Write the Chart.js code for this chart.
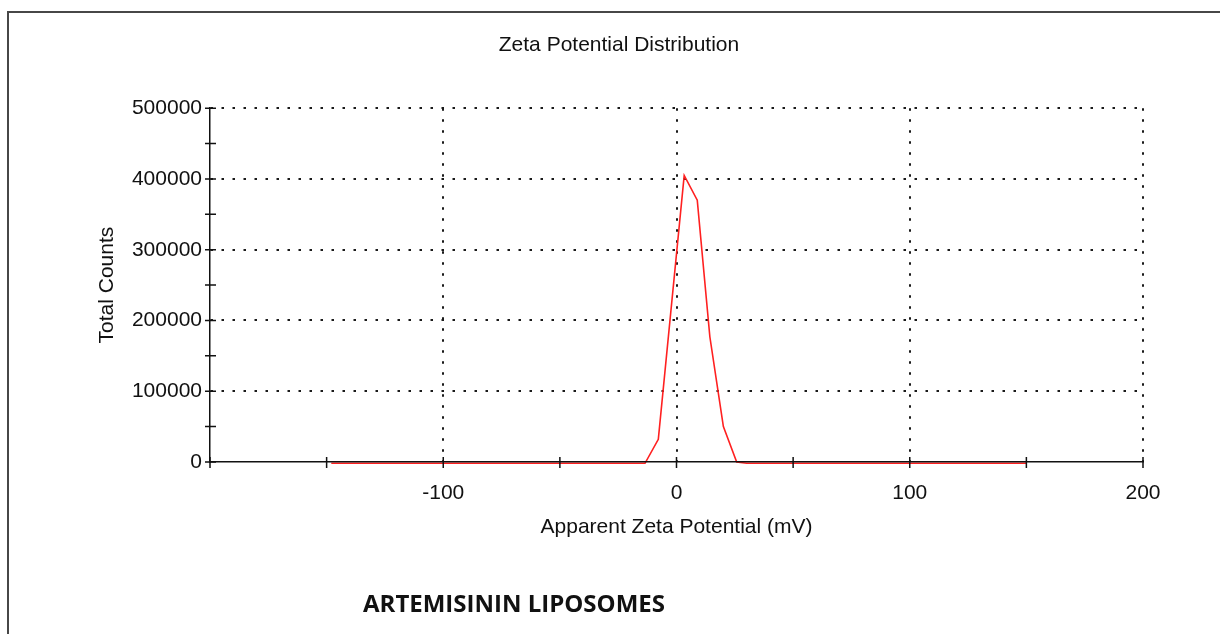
<!DOCTYPE html>
<html>
<head>
<meta charset="utf-8">
<script src="https://cdn.jsdelivr.net/npm/chart.js@4.4.1/dist/chart.umd.min.js"></script>
<style>
  html, body { margin: 0; padding: 0; background: #fff; }
  #frame { position: absolute; left: 7px; top: 11px; width: 1300px; height: 700px;
           border-top: 2px solid #474747; border-left: 2px solid #474747; }
  #chart { position: absolute; left: 0; top: 0; }
</style>
</head>
<body>
<div id="frame"></div>
<canvas id="chart" width="1220" height="634"></canvas>
<script>
// valores (a linha de base fica um pouco abaixo do eixo)
const zetaMv = [-148, -13.5, -7.8, 3.3, 8.9, 14.3, 20.1, 25.8, 30.1, 150];
const totalCounts = [-1800, -1800, 32000, 405000, 370000, 177000, 50000, 0, -1800, -1800];
const xMin = -200, xMax = 200, xStep = 50;
const yMin = 0, yMax = 500000, yStep = 50000;
const chartTitle = 'Zeta Potential Distribution';
const xTitle = 'Apparent Zeta Potential (mV)';
const yTitle = 'Total Counts';
const sampleLabel = 'ARTEMISININ LIPOSOMES';

const textColor = '#111';
const baseFont = "'Liberation Sans', Arial, sans-serif";

// marcas cruzando o eixo (para dentro e para fora)
const crossTicks = {
    id: 'crossTicks',
    afterDraw(chart) {
        const ctx = chart.ctx;
        const xs = chart.scales.x, ys = chart.scales.y;
        const area = chart.chartArea;
        ctx.save();
        ctx.strokeStyle = '#111';
        ctx.lineWidth = 1.5;
        ctx.beginPath();
        xs.ticks.forEach(t => {
            const px = xs.getPixelForValue(t.value);
            ctx.moveTo(px, area.bottom - 5);
            ctx.lineTo(px, area.bottom + 6);
        });
        ys.ticks.forEach(t => {
            const py = ys.getPixelForValue(t.value);
            ctx.moveTo(area.left - 5, py);
            ctx.lineTo(area.left + 6, py);
        });
        ctx.stroke();
        // texto da amostra
        ctx.fillStyle = '#111';
        ctx.font = "bold 24px 'Open Sans', sans-serif";
        ctx.textBaseline = 'alphabetic';
        ctx.textAlign = 'left';
        ctx.fillText(sampleLabel, 363, 612);
        ctx.restore();
    }
};

const points = zetaMv.map((v, i) => ({ x: v, y: totalCounts[i] }));

new Chart(document.getElementById('chart'), {
    type: 'line',
    data: {
        datasets: [{
            data: points,
            borderColor: '#ff2020',
            borderWidth: 1.6,
            pointRadius: 0,
            tension: 0,
            fill: false,
            clip: false
        }]
    },
    options: {
        responsive: false,
        animation: false,
        devicePixelRatio: 1,
        layout: { padding: { left: 95, right: 77, top: 0, bottom: 0 } },
        plugins: {
            legend: { display: false },
            tooltip: { enabled: false },
            title: {
                display: true,
                text: chartTitle,
                color: textColor,
                font: { family: baseFont, size: 21, weight: 'normal' },
                padding: { top: 33, bottom: 50 }
            }
        },
        scales: {
            x: {
                type: 'linear',
                min: xMin,
                max: xMax,
                afterFit(scale) { scale.height = 172; },
                ticks: {
                    stepSize: xStep,
                    autoSkip: false,
                    maxRotation: 0,
                    padding: 19,
                    color: textColor,
                    font: { family: baseFont, size: 21 },
                    callback: v => (v % 100 === 0 && v !== xMin) ? String(v) : ''
                },
                grid: {
                    drawTicks: false,
                    lineWidth: 2,
                    color: c => (c.tick && c.tick.value % 100 === 0 && c.tick.value > xMin) ? '#1a1a1a' : 'rgba(0,0,0,0)'
                },
                border: { display: true, color: '#111', width: 1.5, dash: [2.5, 8.5], z: 1 },
                title: {
                    display: true,
                    text: xTitle,
                    color: textColor,
                    font: { family: baseFont, size: 21 },
                    padding: { top: 0, bottom: 94 }
                }
            },
            y: {
                type: 'linear',
                min: yMin,
                max: yMax,
                afterFit(scale) { scale.width = 115; },
                ticks: {
                    stepSize: yStep,
                    autoSkip: false,
                    padding: 8,
                    color: textColor,
                    font: { family: baseFont, size: 21 },
                    callback: v => (v % 100000 === 0) ? String(v) : ''
                },
                grid: {
                    drawTicks: false,
                    lineWidth: 2,
                    color: c => (c.tick && c.tick.value % 100000 === 0 && c.tick.value > yMin) ? '#1a1a1a' : 'rgba(0,0,0,0)'
                },
                border: { display: true, color: '#111', width: 1.5, dash: [2.5, 8.5], z: 1 },
                title: {
                    display: true,
                    text: yTitle,
                    color: textColor,
                    font: { family: baseFont, size: 21 },
                    padding: { top: 0, bottom: 0 }
                }
            }
        }
    },
    plugins: [crossTicks]
});
</script>
</body>
</html>
